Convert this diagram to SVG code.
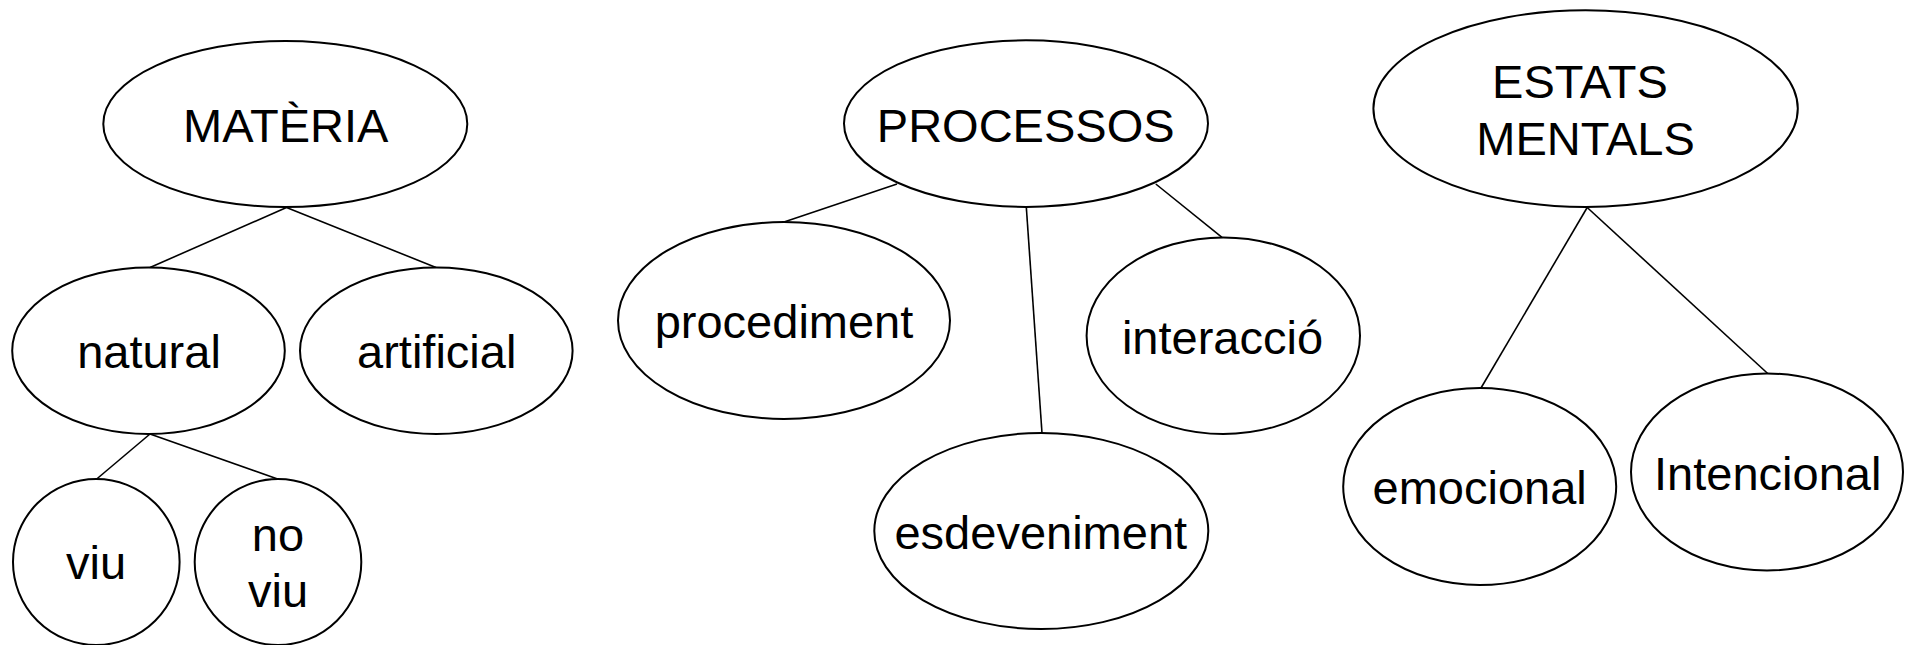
<svg xmlns="http://www.w3.org/2000/svg" width="1906" height="645" viewBox="0 0 1906 645">
  <style>
    .node ellipse { fill: #ffffff; stroke: #000000; stroke-width: 2; }
    .node text { font-family: "Liberation Sans", Arial, sans-serif; font-size: 47px; fill: #000000; text-anchor: middle; }
    #connectors line { stroke: #000000; stroke-width: 1.6; }
  </style>
  <rect x="0" y="0" width="1906" height="645" fill="#ffffff"/>

  <g id="connectors">
    <!-- MATÈRIA tree -->
    <line x1="286.5" y1="207.5" x2="150" y2="267.5"/>
    <line x1="286.5" y1="207.5" x2="436" y2="267.5"/>
    <line x1="150" y1="434" x2="96.7" y2="479"/>
    <line x1="150" y1="434" x2="277.6" y2="479"/>
    <!-- PROCESSOS tree -->
    <line x1="897" y1="184" x2="784" y2="222"/>
    <line x1="1026.3" y1="207" x2="1042" y2="433"/>
    <line x1="1155.8" y1="184" x2="1222" y2="237.3"/>
    <!-- ESTATS MENTALS tree -->
    <line x1="1587.2" y1="207.5" x2="1481" y2="388"/>
    <line x1="1587.2" y1="207.5" x2="1767.7" y2="373.5"/>
  </g>

  <g id="materia" class="node">
    <ellipse cx="285.3" cy="124" rx="182" ry="83"/>
    <text x="285.7" y="142">MATÈRIA</text>
  </g>
  <g id="natural" class="node">
    <ellipse cx="148.5" cy="350.7" rx="136.3" ry="83.3"/>
    <text x="149" y="368">natural</text>
  </g>
  <g id="artificial" class="node">
    <ellipse cx="436.3" cy="350.7" rx="136.3" ry="83.3"/>
    <text x="436.7" y="368">artificial</text>
  </g>
  <g id="viu" class="node">
    <ellipse cx="96.3" cy="562" rx="83.3" ry="83"/>
    <text x="96" y="579">viu</text>
  </g>
  <g id="no-viu" class="node">
    <ellipse cx="278" cy="562" rx="83.3" ry="83"/>
    <text x="278" y="551">no</text>
    <text x="278" y="607">viu</text>
  </g>

  <g id="processos" class="node">
    <ellipse cx="1026" cy="123.6" rx="182" ry="83.3"/>
    <text x="1025.7" y="142">PROCESSOS</text>
  </g>
  <g id="procediment" class="node">
    <ellipse cx="784" cy="320.5" rx="166" ry="98.4"/>
    <text x="784" y="338">procediment</text>
  </g>
  <g id="esdeveniment" class="node">
    <ellipse cx="1041.3" cy="531" rx="167" ry="98"/>
    <text x="1040.8" y="549">esdeveniment</text>
  </g>
  <g id="interaccio" class="node">
    <ellipse cx="1223.3" cy="335.7" rx="136.7" ry="98.3"/>
    <text x="1222.5" y="354">interacció</text>
  </g>

  <g id="estats-mentals" class="node">
    <ellipse cx="1585.6" cy="108.6" rx="212.2" ry="98.3"/>
    <text x="1580" y="98">ESTATS</text>
    <text x="1585.5" y="155">MENTALS</text>
  </g>
  <g id="emocional" class="node">
    <ellipse cx="1479.7" cy="486.5" rx="136.5" ry="98.5"/>
    <text x="1479.7" y="504">emocional</text>
  </g>
  <g id="intencional" class="node">
    <ellipse cx="1767" cy="472" rx="136" ry="98.5"/>
    <text x="1767.7" y="489.5">Intencional</text>
  </g>
</svg>
